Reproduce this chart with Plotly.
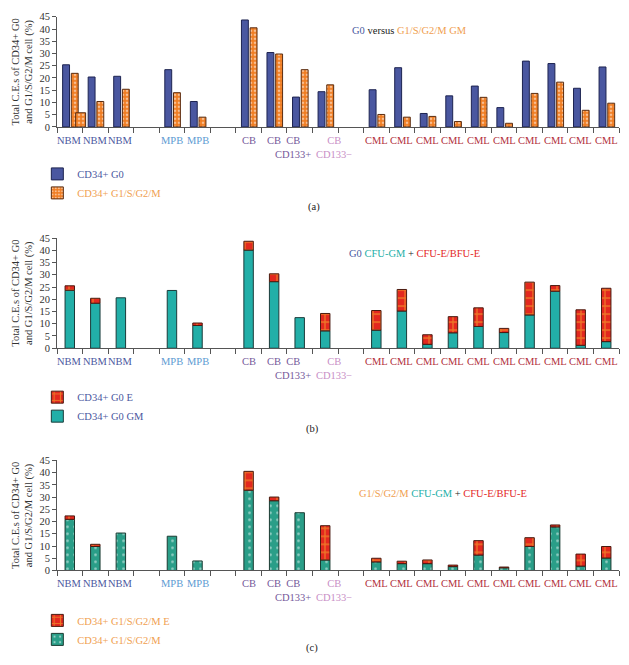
import plotly.graph_objects as go

# ---------------- data ----------------
slots = list(range(22))
labels = ["NBM", "NBM", "NBM", "", "MPB", "MPB", "", "CB", "CB", "CB<br>CD133+", "CB<br>CD133\u2212", "",
          "CML", "CML", "CML", "CML", "CML", "CML", "CML", "CML", "CML", "CML"]
label_groups = ["NBM", "NBM", "NBM", "", "MPB", "MPB", "", "CB", "CB", "CB", "CB-", "",
                "CML", "CML", "CML", "CML", "CML", "CML", "CML", "CML", "CML", "CML"]

# panel (a): G0 versus G1/S/G2/M GM
a_g0 = [25.4, 20.4, 20.7, None, 23.4, 10.4, None, 43.7, 30.4, 12.2, 14.4, None,
        15.2, 24.2, 5.5, 12.7, 16.7, 7.9, 26.9, 25.9, 15.8, 24.5]
a_g1 = [21.9, 10.4, 15.4, None, 14.0, 4.0, None, 40.5, 29.8, 23.4, 17.2, None,
        5.1, 4.0, 4.3, 2.2, 12.1, 1.5, 13.7, 18.3, 6.8, 9.7]
a_extra_slot = [0]
a_extra = [5.8]

# panel (b): G0 CFU-GM + CFU-E/BFU-E
b_gm = [23.7, 18.4, 20.6, None, 23.6, 9.3, None, 40.1, 27.2, 12.5, 7.1, None,
        7.4, 15.2, 1.6, 6.3, 8.9, 6.4, 13.6, 23.3, 1.2, 2.7]
b_e = [1.8, 2.0, None, None, None, 1.0, None, 3.6, 3.2, None, 7.1, None,
       8.0, 8.8, 3.9, 6.6, 7.6, 1.7, 13.4, 2.3, 14.5, 21.8]

# panel (c): G1/S/G2/M CFU-GM + CFU-E/BFU-E
c_gm = [20.9, 9.8, 15.3, None, 14.0, 3.9, None, 32.8, 28.5, 23.6, 4.3, None,
        3.5, 2.8, 2.8, 1.6, 6.3, 1.1, 9.8, 17.8, 1.8, 5.1]
c_e = [1.4, 0.9, None, None, None, None, None, 7.7, 1.5, None, 14.0, None,
       1.5, 1.0, 1.5, 0.6, 5.9, 0.3, 3.6, 0.8, 4.9, 4.7]

# ---------------- style ----------------
FONT = "Liberation Serif"
BLUE = "#4a57a0"
ORANGE = "#f07d22"
ORANGE_TXT = "#f0a050"
TEAL_B = "#22afa8"
TEAL_C = "#2a9e88"
RED = "#e3281f"
YELLOW = "#f8c22e"
GROUP_COL = {"NBM": BLUE, "MPB": "#5e9bd2", "CB": "#75589a", "CB-": "#c98fc6", "CML": "#b2313b", "": "#000"}
AXIS_COL = "#555555"
TICK_SIZE = 10.5


def base_of(gm, e):
    return [g if v is not None else None for g, v in zip(gm, e)]


label_shift = {9: -7, 10: 9}

fig = go.Figure()

# (a)
fig.add_trace(go.Bar(x=slots, y=a_g0, offset=-0.28, width=0.27, name=f"<span style='color:{BLUE}'>CD34+ G0</span>",
                     marker=dict(color=BLUE, line=dict(color="#1d2350", width=1)),
                     xaxis="x", yaxis="y", legend="legend"))
fig.add_trace(go.Bar(x=slots, y=a_g1, offset=0.06, width=0.27,
                     name=f"<span style='color:{ORANGE_TXT}'>CD34+ G1/S/G2/M</span>",
                     marker=dict(color=ORANGE, line=dict(color="#5a2c10", width=1),
                                 pattern=dict(shape=".", fgcolor="white", size=4, solidity=0.35)),
                     xaxis="x", yaxis="y", legend="legend"))
fig.add_trace(go.Bar(x=a_extra_slot, y=a_extra, offset=0.23, width=0.39, showlegend=False,
                     marker=dict(color=ORANGE, line=dict(color="#5a2c10", width=1),
                                 pattern=dict(shape=".", fgcolor="white", size=4, solidity=0.35)),
                     xaxis="x", yaxis="y"))

# (b)
fig.add_trace(go.Bar(x=slots, y=b_gm, width=0.37, name=f"<span style='color:{BLUE}'>CD34+ G0 GM</span>",
                     marker=dict(color=TEAL_B, line=dict(color="#1b3b3a", width=1)),
                     xaxis="x2", yaxis="y2", legend="legend2"))
fig.add_trace(go.Bar(x=slots, y=b_e, base=base_of(b_gm, b_e), width=0.37,
                     name=f"<span style='color:{BLUE}'>CD34+ G0 E</span>",
                     marker=dict(color=RED, line=dict(color="#4a1a10", width=1),
                                 pattern=dict(shape="+", fgcolor=YELLOW, size=8, solidity=0.3)),
                     xaxis="x2", yaxis="y2", legend="legend2"))

# (c)
fig.add_trace(go.Bar(x=slots, y=c_gm, width=0.37, name=f"<span style='color:{ORANGE_TXT}'>CD34+ G1/S/G2/M</span>",
                     marker=dict(color=TEAL_C, line=dict(color="#1b3b32", width=1),
                                 pattern=dict(shape=".", fgcolor="white", size=7, solidity=0.12)),
                     xaxis="x3", yaxis="y3", legend="legend3"))
fig.add_trace(go.Bar(x=slots, y=c_e, base=base_of(c_gm, c_e), width=0.37,
                     name=f"<span style='color:{ORANGE_TXT}'>CD34+ G1/S/G2/M E</span>",
                     marker=dict(color=RED, line=dict(color="#4a1a10", width=1),
                                 pattern=dict(shape="+", fgcolor=YELLOW, size=8, solidity=0.3)),
                     xaxis="x3", yaxis="y3", legend="legend3"))

H = 665.0
doms = {"y": (12, 124), "y2": (237, 349), "y3": (463, 575)}

xaxis_common = dict(range=[-0.5, 21.5], tickmode="linear", tick0=-0.5, dtick=1, showticklabels=False,
                    ticks="outside", ticklen=5, tickcolor=AXIS_COL,
                    showline=True, linecolor=AXIS_COL, linewidth=1, showgrid=False, zeroline=False,
                    fixedrange=True)
yaxis_common = dict(range=[0, 45], dtick=5, ticks="outside", ticklen=4, tickcolor=AXIS_COL,
                    showline=True, linecolor=AXIS_COL, linewidth=1, showgrid=False, zeroline=False,
                    tickfont=dict(family=FONT, size=10.5, color="#333"), fixedrange=True,
                    title=dict(text="Total C.E.s of CD34+ G0<br>and G1/S/G2/M cell (%)",
                               font=dict(family=FONT, size=10.5, color="#333"), standoff=4))

layout = dict(width=629, height=665, margin=dict(l=57, r=10, t=0, b=0),
              paper_bgcolor="white", plot_bgcolor="white", barmode="overlay",
              font=dict(family=FONT, size=10.5, color="#333"))
for i, (ya, xa) in enumerate([("y", "x"), ("y2", "x2"), ("y3", "x3")]):
    top, bot = doms[ya]
    xkey = "xaxis" if xa == "x" else "xaxis" + xa[1:]
    ykey = "yaxis" if ya == "y" else "yaxis" + ya[1:]
    layout[xkey] = dict(xaxis_common, anchor=ya)
    layout[ykey] = dict(yaxis_common, anchor=xa, domain=[1 - bot / H, 1 - top / H])

leg_common = dict(x=-0.035, xanchor="left", yanchor="top", bgcolor="rgba(0,0,0,0)",
                  font=dict(family=FONT, size=10.5), tracegroupgap=0, itemclick=False)
layout["legend"] = dict(leg_common, y=1 - 157 / H, traceorder="normal")
layout["legend2"] = dict(leg_common, y=1 - 384 / H, traceorder="reversed")
layout["legend3"] = dict(leg_common, y=1 - 611 / H, traceorder="reversed")

fig.update_layout(**layout)

# category labels under each panel
for xa, (top, bot) in zip(["x", "x2", "x3"], [doms["y"], doms["y2"], doms["y3"]]):
    for i, (t, g) in enumerate(zip(labels, label_groups)):
        if not t:
            continue
        fig.add_annotation(text=t, x=slots[i], xref=xa, y=1 - (bot + 7) / H, yref="paper",
                           xshift=label_shift.get(i, 0), showarrow=False, xanchor="center",
                           yanchor="top", align="center", borderpad=0,
                           font=dict(family=FONT, size=TICK_SIZE, color=GROUP_COL[g]))

ann = [
    (f"<span style='color:{BLUE}'>G0</span> <span style='color:#222'>versus</span> "
     f"<span style='color:{ORANGE_TXT}'>G1/S/G2/M GM</span>", 409, 26),
    (f"<span style='color:{BLUE}'>G0</span> <span style='color:{TEAL_B}'>CFU-GM</span> "
     f"<span style='color:#222'>+</span> <span style='color:{RED}'>CFU-E/BFU-E</span>", 414, 253),
    (f"<span style='color:{ORANGE_TXT}'>G1/S/G2/M</span> <span style='color:{TEAL_B}'>CFU-GM</span> "
     f"<span style='color:#222'>+</span> <span style='color:{RED}'>CFU-E/BFU-E</span>", 443, 497),
    ("(a)", 314, 205), ("(b)", 312, 431), ("(c)", 312, 654),
]
for text, px, py in ann:
    fig.add_annotation(text=text, x=(px - 57) / 562, y=1 - py / H, xref="paper", yref="paper",
                       showarrow=False, xanchor="center", yanchor="middle",
                       font=dict(family=FONT, size=10.5, color="#222"))

fig.write_html("out.html", config={"displayModeBar": False},
               post_script="document.body.style.margin='0';")
